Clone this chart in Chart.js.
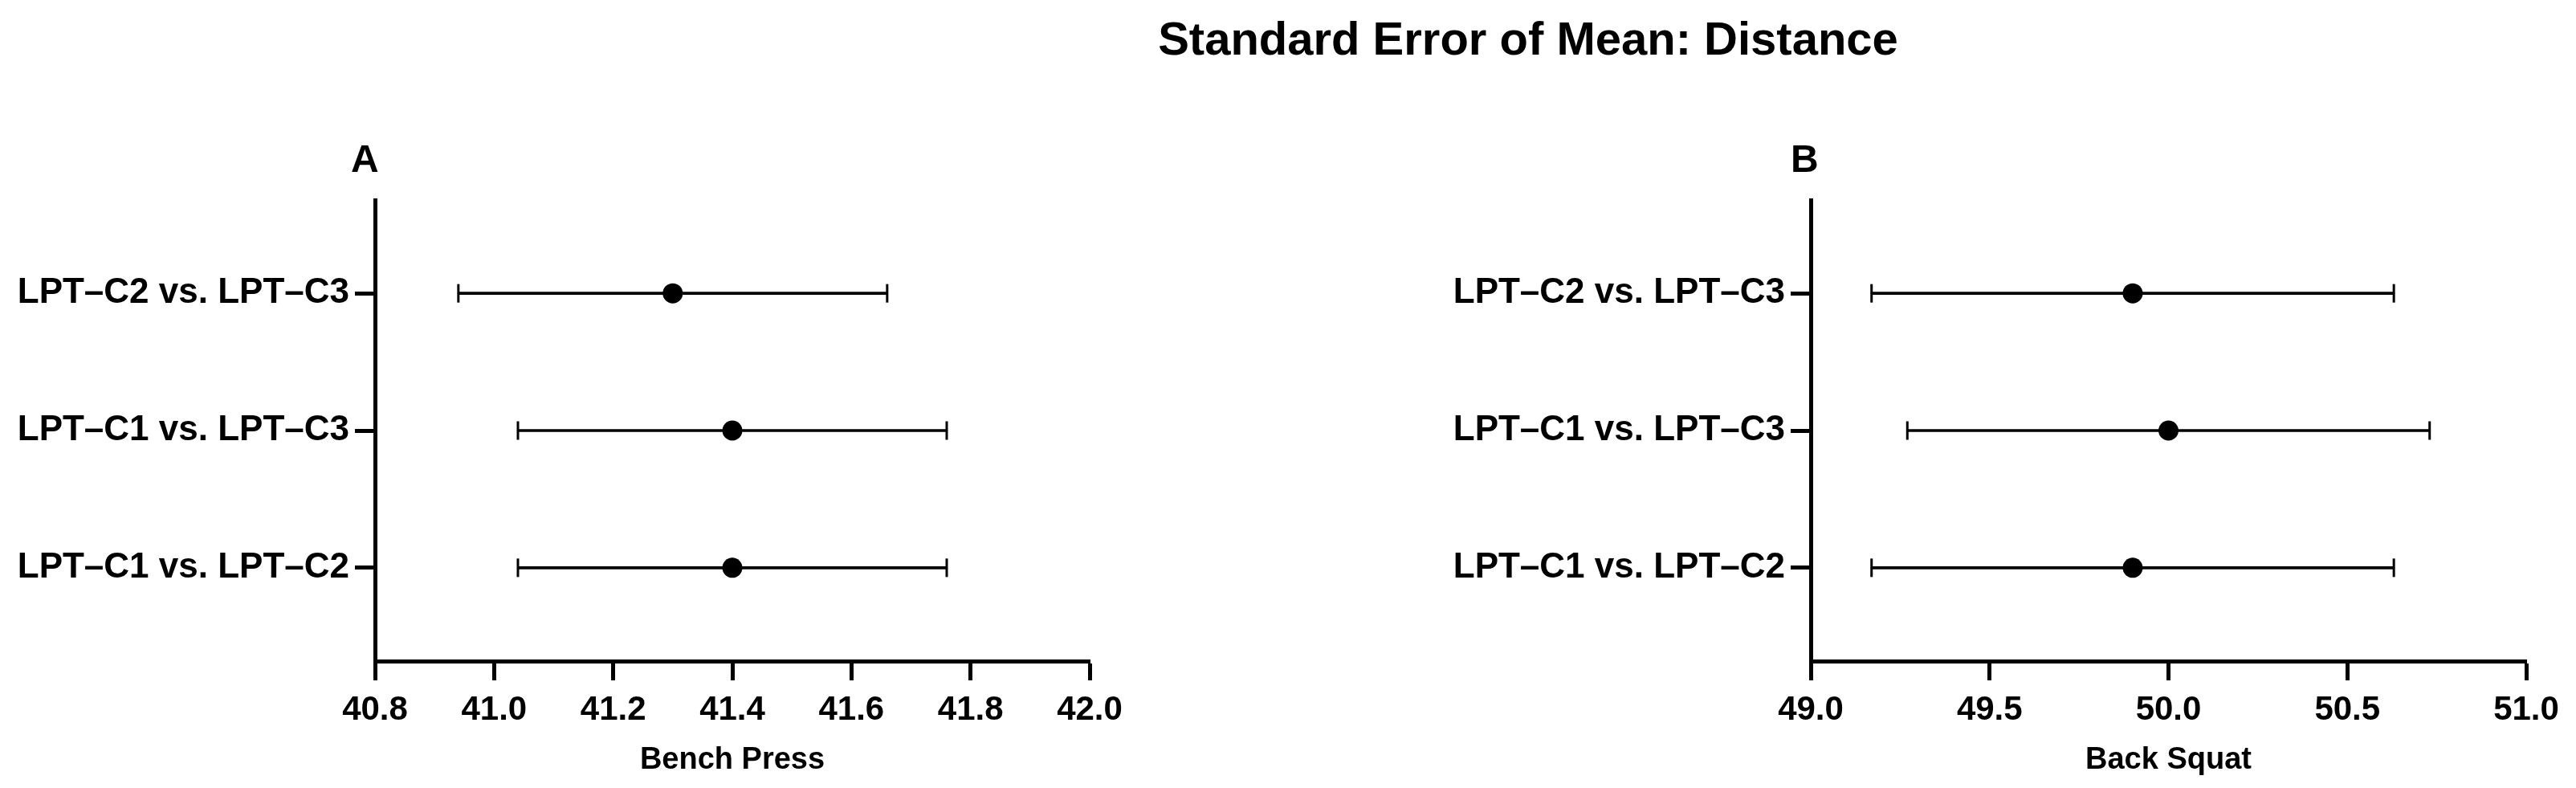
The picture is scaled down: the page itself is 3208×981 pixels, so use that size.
<!DOCTYPE html>
<html lang="en">
<head>
    <meta charset="UTF-8">
    <title>Standard Error of Mean: Distance</title>
    <script src="https://cdn.jsdelivr.net/npm/chart.js"></script>
    <style>
        body { margin: 0; background: #fff; }
        .page { position: relative; width: 3208px; height: 981px; overflow: hidden; }
        .titulo {
            position: absolute; left: 1903px; top: 19px; transform: translateX(-50%);
            font: bold 58px "Liberation Sans", Arial, sans-serif; line-height: 58px;
            white-space: nowrap; color: #000; margin: 0;
        }
        .painel { position: absolute; top: 0; height: 981px; }
    </style>
</head>
<body>
<div class="page">
    <h1 class="titulo">Standard Error of Mean: Distance</h1>
    <div class="painel" style="left: 0; width: 1420px;"><canvas id="chartA"></canvas></div>
    <div class="painel" style="left: 1420px; width: 1788px;"><canvas id="chartB"></canvas></div>
</div>
<script>
    // comparisons, top to bottom
    const categories = ['LPT–C2 vs. LPT–C3', 'LPT–C1 vs. LPT–C3', 'LPT–C1 vs. LPT–C2'];

    // Bench Press (panel A)
    const benchMean = [41.30, 41.40, 41.40];
    const benchLow  = [40.94, 41.04, 41.04];
    const benchHigh = [41.66, 41.76, 41.76];
    const benchTicks = [40.8, 42.0, 0.2]; // min, max, step

    // Back Squat (panel B)
    const squatMean = [49.90, 50.00, 49.90];
    const squatLow  = [49.17, 49.27, 49.17];
    const squatHigh = [50.63, 50.73, 50.63];
    const squatTicks = [49.0, 51.0, 0.5];

    const FONT = '"Liberation Sans", Arial, sans-serif';

    // letra do painel (A / B) acima do eixo y
    const panelLetter = {
        id: 'panelLetter',
        afterDraw(chart, args, opts) {
            const ctx = chart.ctx;
            ctx.save();
            ctx.font = 'bold 48px ' + FONT;
            ctx.fillStyle = '#000';
            ctx.textBaseline = 'alphabetic';
            ctx.fillText(opts.text, chart.chartArea.left + opts.dx, 214);
            ctx.restore();
        }
    };

    function makeChart(id, letter, dx, axisTitle, mean, low, high, ticks, yWidth, rightPad) {
        const rows = categories.map((c, i) => i + 1);
        return new Chart(document.getElementById(id), {
            type: 'bar',
            data: {
                datasets: [
                    {   // media
                        type: 'scatter',
                        data: rows.map((r, i) => ({ x: mean[i], y: r })),
                        pointRadius: 12.5,
                        pointBackgroundColor: '#000',
                        pointBorderWidth: 0
                    },
                    {   // extremidades da barra de erro
                        type: 'scatter',
                        data: rows.flatMap((r, i) => [{ x: low[i], y: r }, { x: high[i], y: r }]),
                        pointStyle: 'line',
                        rotation: 90,
                        pointRadius: 11.5,
                        pointBorderColor: '#000',
                        pointBorderWidth: 3
                    },
                    {   // linha da barra de erro
                        data: rows.map((r, i) => ({ x: [low[i], high[i]], y: r })),
                        backgroundColor: '#000',
                        borderWidth: 0,
                        barThickness: 3
                    }
                ]
            },
            options: {
                indexAxis: 'y',
                responsive: true,
                maintainAspectRatio: false,
                animation: false,
                layout: { padding: { top: 249, right: rightPad, left: 0, bottom: 0 } },
                plugins: {
                    legend: { display: false },
                    tooltip: { enabled: false },
                    panelLetter: { text: letter, dx: dx }
                },
                scales: {
                    x: {
                        type: 'linear',
                        min: ticks[0],
                        max: ticks[1],
                        offset: false,
                        afterBuildTicks: (scale) => {
                            const t = [];
                            for (let v = ticks[0]; v <= ticks[1] + 1e-9; v += ticks[2]) t.push({ value: +v.toFixed(2) });
                            scale.ticks = t;
                        },
                        afterFit: (scale) => { scale.height = 158; },
                        grid: { offset: false, drawOnChartArea: false, drawTicks: true, tickLength: 24, tickWidth: 5, tickColor: '#000' },
                        border: { display: true, color: '#000', width: 5 },
                        ticks: {
                            color: '#000',
                            padding: 12,
                            maxRotation: 0,
                            font: { family: FONT, size: 42, weight: 'bold' },
                            callback: (v) => Number(v).toFixed(1)
                        },
                        title: {
                            display: true,
                            text: axisTitle,
                            color: '#000',
                            font: { family: FONT, size: 38, weight: 'bold' },
                            padding: { top: 0, bottom: 12 }
                        }
                    },
                    y: {
                        type: 'linear',
                        reverse: true,
                        min: 0.32,
                        max: 3.68,
                        offset: false,
                        afterBuildTicks: (scale) => { scale.ticks = rows.map(r => ({ value: r })); },
                        afterFit: (scale) => { scale.width = yWidth; },
                        grid: { offset: false, drawOnChartArea: false, drawTicks: true, tickLength: 25, tickWidth: 5, tickColor: '#000' },
                        border: { display: true, color: '#000', width: 5 },
                        ticks: {
                            color: '#000',
                            padding: 7,
                            font: { family: FONT, size: 44, weight: 'bold' },
                            callback: (v) => categories[v - 1]
                        }
                    }
                }
            },
            plugins: [panelLetter]
        });
    }

    makeChart('chartA', 'A', -30, 'Bench Press', benchMean, benchLow, benchHigh, benchTicks, 467, 63);
    makeChart('chartB', 'B', -25, 'Back Squat', squatMean, squatLow, squatHigh, squatTicks, 835, 62);
</script>
</body>
</html>
